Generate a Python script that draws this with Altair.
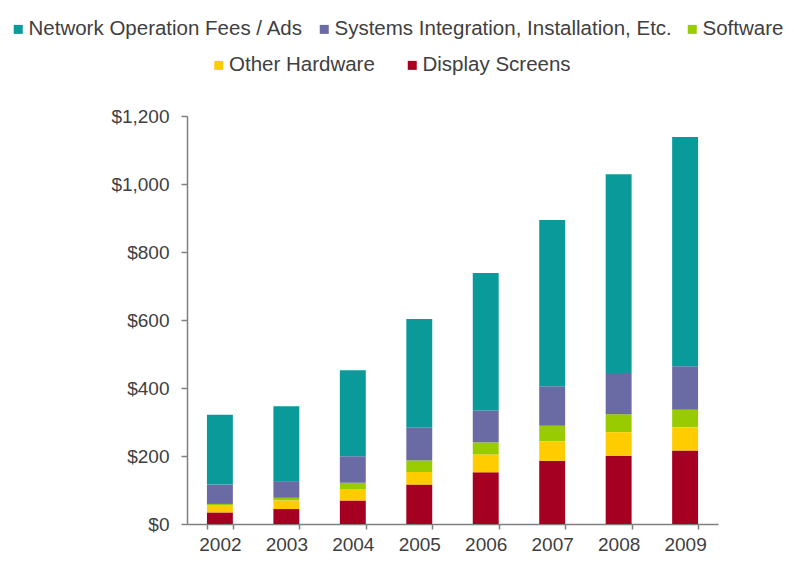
import altair as alt
import pandas as pd

years = ["2002", "2003", "2004", "2005", "2006", "2007", "2008", "2009"]
display_screens = [34, 44, 69, 116, 152, 186, 201, 216]
other_hardware = [20, 25, 34, 37, 52, 57, 69, 68]
software = [5, 8, 18, 34, 36, 46, 53, 52]
systems_integration = [57, 49, 78, 97, 94, 116, 121, 128]
network_fees = [205, 220, 253, 319, 404, 489, 585, 674]

series_names = [
    "Display Screens",
    "Other Hardware",
    "Software",
    "Systems Integration, Installation, Etc.",
    "Network Operation Fees / Ads",
]
series_values = [display_screens, other_hardware, software, systems_integration, network_fees]

row1 = ["Network Operation Fees / Ads", "Systems Integration, Installation, Etc.", "Software"]
row1_colors = ["#0A9A9A", "#6A6AA4", "#99CC00"]
row2 = ["Other Hardware", "Display Screens"]
row2_colors = ["#FFCC00", "#A50021"]

y_ticks = [0, 200, 400, 600, 800, 1000, 1200]

rows = []
for order, (name, vals) in enumerate(zip(series_names, series_values)):
    for yr, v in zip(years, vals):
        rows.append({"year": yr, "series": name, "value": v, "order": order})
df = pd.DataFrame(rows)

FONT = "Liberation Sans"
TXT = "#404040"

base = alt.Chart(df).transform_stack(
    stack="value",
    groupby=["year"],
    as_=["v0", "v1"],
    sort=[alt.SortField("order", order="ascending")],
)

x_enc = alt.X(
    "year:O",
    sort=years,
    scale=alt.Scale(paddingInner=0.61, paddingOuter=0.3),
    axis=alt.Axis(title=None, labelAngle=0, tickBand="extent", tickSize=5,
                  labelPadding=6),
)
y_enc = alt.Y(
    "v0:Q",
    scale=alt.Scale(domain=[0, 1200], nice=False),
    axis=alt.Axis(title=None, values=y_ticks, format="$,.0f", grid=False,
                  tickSize=6, labelPadding=12),
)
y2_enc = alt.Y2("v1:Q")

legend_common = dict(
    orient="none",
    direction="horizontal",
    title=None,
    symbolType="square",
    symbolSize=81,
    symbolStrokeWidth=0,
    labelFontSize=20.5,
    labelFont=FONT,
    labelColor=TXT,
    labelOffset=0,
    padding=0,
    labelLimit=500,
)

layer1 = base.transform_filter(
    alt.FieldOneOfPredicate(field="series", oneOf=row1)
).mark_bar().encode(
    x=x_enc,
    y=y_enc,
    y2=y2_enc,
    color=alt.Color(
        "series:N",
        scale=alt.Scale(domain=row1, range=row1_colors),
        legend=alt.Legend(legendX=-179, legendY=-97, columnPadding=10, **legend_common),
    ),
)

layer2 = base.transform_filter(
    alt.FieldOneOfPredicate(field="series", oneOf=row2)
).mark_bar().encode(
    x=x_enc,
    y=y_enc,
    y2=y2_enc,
    color=alt.Color(
        "series:N",
        scale=alt.Scale(domain=row2, range=row2_colors),
        legend=alt.Legend(legendX=21.5, legendY=-61, columnPadding=26.5, **legend_common),
    ),
)

chart = alt.layer(layer1, layer2).resolve_scale(color="independent").properties(
    width=531,
    height=408,
    autosize=alt.AutoSizeParams(type="none"),
    padding={"left": 179, "top": 108, "right": 68, "bottom": 30},
).configure_view(stroke=None).configure_axis(
    labelFont=FONT,
    labelFontSize=19,
    labelColor=TXT,
    domainColor="#808080",
    tickColor="#808080",
    domainWidth=1.5,
    tickWidth=1.5,
)

chart.save("out.html", embed_options={"renderer": "svg", "actions": False})
